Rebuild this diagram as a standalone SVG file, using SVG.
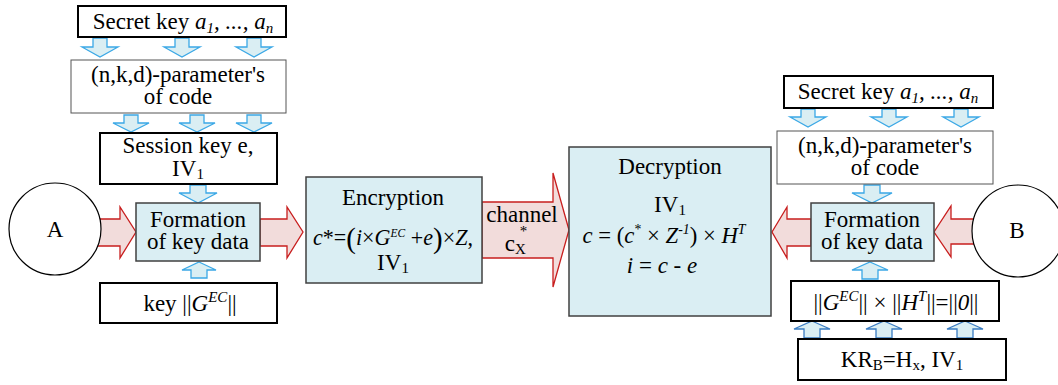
<svg xmlns="http://www.w3.org/2000/svg" width="1058" height="385" viewBox="0 0 1058 385" font-family="Liberation Serif, Times New Roman, serif">
  <style>
    .t { font-size: 23px; text-anchor: middle; fill: #000; }
    .i { font-style: italic; }
    .box { fill: #fff; stroke: #000; stroke-width: 2; }
    .thin { fill: #fff; stroke: #555; stroke-width: 1; }
    .proc { fill: #DAEEF3; stroke: #404040; stroke-width: 1.5; }
    .blue { fill: #DAEEF3; stroke: #3BA8E6; stroke-width: 1.3; }
    .blue2 { fill: #DAEEF3; stroke: #3A7CC2; stroke-width: 1.3; }
    .red { fill: #F2DCDB; stroke: #C81E1E; stroke-width: 1.3; }
    .circ { fill: #fff; stroke: #000; stroke-width: 1.2; }
  </style>

  <!-- connectors: block arrows -->
  <g id="connectors">
    <!-- left column, downward -->
    <polygon class="blue" points="93,38 107,38 107,47 118,47 100,57 82,47 93,47"/>
    <polygon class="blue" points="175,38 189,38 189,47 200,47 182,57 164,47 175,47"/>
    <polygon class="blue" points="247,38 261,38 261,47 272,47 254,57 236,47 247,47"/>
    <polygon class="blue" points="124,115 138,115 138,123 149,123 131,132 113,123 124,123"/>
    <polygon class="blue" points="190,115 204,115 204,123 215,123 197,132 179,123 190,123"/>
    <polygon class="blue" points="247,115 261,115 261,123 272,123 254,132 236,123 247,123"/>
    <polygon class="blue" points="190,185 206,185 206,193 217,193 198,203 179,193 190,193"/>
    <!-- left column, upward -->
    <polygon class="blue" points="199,262 216,270 207,270 207,278 191,278 191,270 182,270"/>

    <!-- right column, downward -->
    <polygon class="blue" points="801,109 815,109 815,117 826,117 808,127 790,117 801,117"/>
    <polygon class="blue" points="882,109 896,109 896,117 907,117 889,127 871,117 882,117"/>
    <polygon class="blue" points="954,109 968,109 968,117 979,117 961,127 943,117 954,117"/>
    <polygon class="blue" points="864,185 880,185 880,193 892,193 872,203 852,193 864,193"/>
    <!-- right column, upward -->
    <polygon class="blue" points="870,262 888,270 878,270 878,279 862,279 862,270 852,270"/>
    <polygon class="blue2" points="812,321 830,329 820,329 820,338 804,338 804,329 794,329"/>
    <polygon class="blue2" points="884,321 902,329 892,329 892,338 876,338 876,329 866,329"/>
    <polygon class="blue2" points="965,321 983,329 973,329 973,338 957,338 957,329 947,329"/>

    <!-- data flow -->
    <polygon class="red" points="97,219 120,219 120,207 136,232 120,258 120,246 97,246"/>
    <polygon class="red" points="260,219 287,219 287,207 303,232 287,258 287,246 260,246"/>
    <polygon class="red" points="482,202 553,202 553,173 569,230 553,287 553,258 482,258"/>
    <polygon class="red" points="811,219 787,219 787,207 772,232 787,258 787,246 811,246"/>
    <polygon class="red" points="978,219 951,219 951,206 934,232 951,257 951,244 978,244"/>
  </g>

  <!-- sender A side -->
  <g id="nodeA">
    <circle class="circ" cx="55" cy="229" r="46"/>
    <text class="t" x="55" y="237">A</text>
  </g>
  <g id="secretA">
    <rect class="box" x="78" y="6" width="208" height="31"/>
    <text class="t" x="183" y="29">Secret key <tspan class="i">a<tspan font-size="15" dy="4">1</tspan><tspan dy="-4">,  ...,  a</tspan><tspan font-size="15" dy="4">n</tspan></tspan></text>
  </g>
  <g id="paramsA">
    <rect class="thin" x="71" y="60" width="215" height="53"/>
    <text class="t" x="178" y="82">(n,k,d)-parameter's</text>
    <text class="t" x="178" y="104">of code</text>
  </g>
  <g id="sessionA">
    <rect class="box" x="100" y="133" width="177" height="51"/>
    <text class="t" x="188" y="153">Session key e,</text>
    <text class="t" x="188" y="176">IV<tspan font-size="15" dy="3">1</tspan></text>
  </g>
  <g id="formationA">
    <rect class="proc" x="136" y="203" width="124" height="58"/>
    <text class="t" x="198" y="227">Formation</text>
    <text class="t" x="198" y="249">of key data</text>
  </g>
  <g id="keyA">
    <rect class="box" x="100" y="283" width="177" height="40"/>
    <text class="t" x="190" y="311">key ||<tspan class="i">G</tspan><tspan class="i" font-size="15" dy="-9">EC</tspan><tspan dy="9">||</tspan></text>
  </g>

  <!-- encryption and channel -->
  <g id="encryption">
    <rect class="proc" x="306" y="177" width="176" height="106"/>
    <text class="t" x="393" y="205">Encryption</text>
    <text class="t" x="393" y="245" font-size="20" textLength="160" lengthAdjust="spacingAndGlyphs"><tspan class="i">c</tspan>*=<tspan font-size="30" dy="3">(</tspan><tspan class="i" dy="-3">i</tspan>×<tspan class="i">G</tspan><tspan class="i" font-size="12" dy="-8">EC</tspan><tspan dy="8"> +</tspan><tspan class="i">e</tspan><tspan font-size="30" dy="3">)</tspan><tspan dy="-3">×</tspan><tspan class="i">Z</tspan>,</text>
    <text class="t" x="393" y="270">IV<tspan font-size="15" dy="3">1</tspan></text>
  </g>
  <g id="channel">
    <text class="t" x="522" y="222">channel</text>
    <text class="t" x="516" y="251">c<tspan font-size="15" dy="3">X</tspan><tspan font-size="15" dx="-6" dy="-18">*</tspan></text>
  </g>

  <!-- decryption -->
  <g id="decryption">
    <rect class="proc" x="569" y="147" width="202" height="169"/>
    <text class="t" x="670" y="174">Decryption</text>
    <text class="t" x="670" y="212">IV<tspan font-size="15" dy="3">1</tspan></text>
    <text class="t" x="664" y="243" textLength="163" lengthAdjust="spacingAndGlyphs"><tspan class="i">c</tspan> = (<tspan class="i">c</tspan><tspan font-size="14" dy="-9">*</tspan><tspan dy="9"> × </tspan><tspan class="i">Z</tspan><tspan class="i" font-size="14" dy="-9">-1</tspan><tspan dy="9">) × </tspan><tspan class="i">H</tspan><tspan class="i" font-size="14" dy="-9">T</tspan></text>
    <text class="t" x="662" y="273"><tspan class="i">i</tspan> = <tspan class="i">c</tspan> - <tspan class="i">e</tspan></text>
  </g>

  <!-- receiver B side -->
  <g id="secretB">
    <rect class="box" x="784" y="76" width="209" height="32"/>
    <text class="t" x="888" y="99">Secret key <tspan class="i">a<tspan font-size="15" dy="4">1</tspan><tspan dy="-4">,  ...,  a</tspan><tspan font-size="15" dy="4">n</tspan></tspan></text>
  </g>
  <g id="paramsB">
    <rect class="thin" x="777" y="131" width="216" height="53"/>
    <text class="t" x="885" y="153">(n,k,d)-parameter's</text>
    <text class="t" x="885" y="175">of code</text>
  </g>
  <g id="formationB">
    <rect class="proc" x="811" y="203" width="123" height="58"/>
    <text class="t" x="872" y="227">Formation</text>
    <text class="t" x="872" y="249">of key data</text>
  </g>
  <g id="nodeB">
    <circle class="circ" cx="1018" cy="231" r="46"/>
    <text class="t" x="1017" y="238">B</text>
  </g>
  <g id="checkB">
    <rect class="box" x="791" y="281" width="208" height="40"/>
    <text class="t" x="896" y="310">||<tspan class="i">G</tspan><tspan class="i" font-size="15" dy="-9">EC</tspan><tspan dy="9">|| × ||</tspan><tspan class="i">H</tspan><tspan class="i" font-size="15" dy="-9">T</tspan><tspan dy="9">||=||</tspan><tspan class="i">0</tspan>||</text>
  </g>
  <g id="kr">
    <rect class="box" x="798" y="339" width="208" height="41"/>
    <text class="t" x="902" y="367">KR<tspan font-size="15" dy="3">B</tspan><tspan dy="-3">=H</tspan><tspan font-size="15" dy="3">x</tspan><tspan dy="-3">, IV</tspan><tspan font-size="15" dy="3">1</tspan></text>
  </g>
</svg>
